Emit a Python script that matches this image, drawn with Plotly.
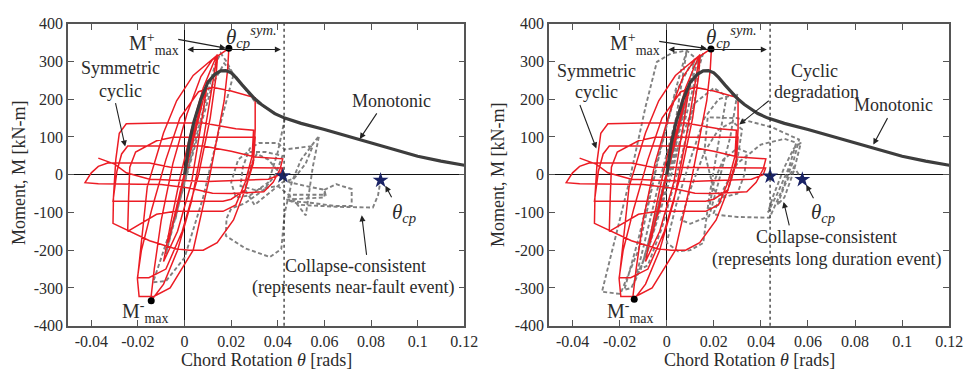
import plotly.graph_objects as go

# ---------------- data ----------------
x_ticks = [-0.04, -0.02, 0, 0.02, 0.04, 0.06, 0.08, 0.1, 0.12]
x_tick_labels = ["-0.04", "-0.02", "0", "0.02", "0.04", "0.06", "0.08", "0.1", "0.12"]
y_ticks = [-400, -300, -200, -100, 0, 100, 200, 300, 400]
y_tick_labels = ["-400", "-300", "-200", "-100", "0", "100", "200", "300", "400"]

# monotonic backbone
mono_x = [0, 0.001, 0.002, 0.004, 0.007, 0.010, 0.013, 0.0155, 0.0177, 0.020, 0.022, 0.0247,
          0.027, 0.030, 0.033, 0.036, 0.0387, 0.043, 0.050, 0.060, 0.070, 0.080, 0.090,
          0.100, 0.110, 0.120]
mono_m = [0, 45, 85, 140, 200, 245, 266, 275, 276, 270, 258, 238,
          222, 202, 186, 172, 162, 150, 136, 120, 102, 84, 66,
          49, 36, 25]

# symmetric cyclic (red) response, same in both panels
red_pts = [
    (0, 0), (0.004, 120), (-0.004, -110), (0.007, 190), (-0.007, -180),
    (0.010, 250), (0.007, 130), (0.003, -20), (-0.003, -150), (-0.009, -230),
    (-0.006, -130), (-0.002, -10), (0.003, 120), (0.008, 230), (0.012, 290),
    (0.014, 318), (0.012, 240), (0.008, 90), (0.003, -70), (-0.003, -200), (-0.009, -290),
    (-0.0146, -336), (-0.013, -250), (-0.010, -120), (-0.005, 30), (0.001, 160),
    (0.007, 260), (0.012, 305), (0.019, 335),
    (0.0185, 280), (0.017, 196), (0.0107, -7), (0.0037, -200), (-0.0062, -300),
    (-0.013, -322), (-0.0195, -323),
    (-0.0202, -277), (-0.018, -150), (-0.016, -32), (-0.009, 111), (-0.0034, 196),
    (0.0037, 263), (0.0142, 318),
    (0.0135, 260), (0.011, 150), (0.006, 0), (-0.001, -150), (-0.008, -250),
    (-0.0153, -273), (-0.0202, -273),
    (-0.0185, -200), (-0.014, -90), (-0.008, 40), (-0.002, 150), (0.006, 220),
    (0.012, 232), (0.020, 222), (0.0303, 204),
    (0.0303, 120), (0.0295, 40), (0.026, -40), (0.021, -120), (0.014, -180),
    (0.008, -200), (0.002, -200), (-0.004, -196), (-0.015, -175), (-0.0307, -129),
    (-0.0305, -60), (-0.0295, 40), (-0.028, 110), (-0.025, 135), (-0.010, 137),
    (0.008, 137), (0.014, 130), (0.022, 122), (0.0296, 118),
    (0.029, 50), (0.026, -20), (0.022, -80), (0.0165, -97), (-0.004, -97),
    (-0.012, -105), (-0.0244, -150),
    (-0.0240, -60), (-0.0235, 20), (-0.021, 60), (-0.012, 90), (-0.005, 99), (0.0303, 99),
    (0.0295, 30), (0.026, -40), (0.020, -65), (0.0165, -70), (-0.0307, -70),
    (-0.029, 10), (-0.027, 55), (-0.0244, 76), (0.008, 76), (0.020, 62), (0.0303, 47),
    (0.0421, 42),
    (0.041, 15), (0.038, -20), (0.034, -45), (0.020, -50), (0.012, -49), (0.002, -35),
    (-0.010, -26), (-0.037, -24), (-0.0427, -21),
    (-0.040, 5), (-0.037, 22), (-0.033, 31), (-0.015, 31), (-0.006, 20), (0.042, 18),
    (0.041, 0), (0.036, -12), (0.010, -18), (-0.015, -12), (-0.025, 5), (-0.030, 28),
    (-0.037, 44),
]
red_x = [p[0] for p in red_pts]
red_m = [p[1] for p in red_pts]

# collapse-consistent, near-fault event (left panel, grey dashed)
nf_pts = [
    (0, 0), (0.005, 150), (-0.004, -120), (0.009, 230), (-0.008, -210), (0.013, 290),
    (0.0155, 322), (0.018, 300), (0.021, 265), (0.016, 150), (0.008, -60), (0.000, -220),
    (-0.008, -282), (-0.0135, -285), (-0.011, -240), (-0.003, -90), (0.006, 110),
    (0.012, 240), (0.017, 295), (0.022, 260), (0.030, 195), (0.043, 148),
    (0.040, 60), (0.036, -20), (0.028, -55), (0.022, -60), (0.020, -20), (0.023, 40),
    (0.027, 60), (0.035, 60), (0.042, 50), (0.039, 0), (0.034, -40), (0.026, -75),
    (0.020, -90), (0.018, -116), (0.0177, -162), (0.026, -195), (0.0366, -218),
    (0.0415, -197), (0.043, -100), (0.046, -20), (0.050, 40), (0.0577, 103),
    (0.055, 20), (0.052, -108), (0.046, -60), (0.040, -30), (0.030, -40), (0.024, -30),
    (0.025, 20), (0.028, 70), (0.032, 84), (0.040, 84), (0.043, 67), (0.055, 76),
    (0.052, 30), (0.047, -10), (0.042, -20), (0.036, -50), (0.030, -80), (0.026, -40),
    (0.028, 20), (0.031, 55), (0.036, 40), (0.040, 10), (0.0422, -3), (0.045, -20),
    (0.052, -30), (0.060, -40), (0.0605, -53), (0.045, -53), (0.046, -70), (0.055, -75),
    (0.0647, -83), (0.0717, -83), (0.0717, -38), (0.065, -25), (0.060, -40),
    (0.060, -60), (0.0437, -66), (0.050, -80), (0.065, -85), (0.0808, -87),
    (0.083, -55), (0.0841, -15),
]
nf_x = [p[0] for p in nf_pts]
nf_m = [p[1] for p in nf_pts]

# collapse-consistent, long-duration event (right panel, grey dashed)
ld_pts = [
    (0, 0), (0.004, 110), (-0.004, -100), (0.007, 180), (-0.007, -170), (0.010, 240),
    (-0.010, -230), (0.013, 300), (0.0155, 322), (0.012, 250), (0.002, 0), (-0.008, -200),
    (-0.014, -290), (-0.011, -220), (-0.004, -40), (0.004, 150), (0.0085, 329),
    (0.004, 230), (-0.004, 30), (-0.012, -200), (-0.0197, -316), (-0.0275, -310),
    (-0.024, -220), (-0.016, -20), (-0.009, 180), (-0.0042, 299), (0.002, 322),
    (0.0085, 329), (0.012, 310), (0.008, 180), (0.000, -20), (-0.008, -200),
    (-0.015, -300), (-0.018, -305), (-0.012, -170), (-0.004, 40), (0.004, 220),
    (0.010, 290), (0.014, 300), (0.012, 200), (0.006, 40), (-0.002, -140),
    (-0.008, -240), (-0.011, -250), (-0.006, -140), (0.004, 60), (0.012, 190),
    (0.020, 230), (0.0254, 207), (0.022, 80), (0.018, -60), (0.0155, -181),
    (0.010, -200), (0.0048, -203), (0.000, -180), (0.004, -80), (0.010, 40),
    (0.016, 150), (0.022, 200), (0.030, 215), (0.027, 100), (0.022, -20),
    (0.018, -110), (0.010, -130), (0.006, -120), (0.010, -40), (0.016, 60),
    (0.022, 120), (0.028, 140), (0.032, 120), (0.030, 40), (0.026, -40), (0.022, -80),
    (0.018, -90), (0.020, -20), (0.024, 40), (0.030, 70), (0.034, 60), (0.033, 0),
    (0.030, -50), (0.024, -60), (0.020, -40), (0.016, 60), (0.0174, 152), (0.030, 150),
    (0.045, 125), (0.0562, 93), (0.054, 40), (0.049, -40), (0.0437, -114),
    (0.030, -112), (0.0197, -105), (0.024, -40), (0.030, 30), (0.040, 80),
    (0.050, 95), (0.055, 85), (0.052, 20), (0.047, -50), (0.043, -100), (0.045, -60),
    (0.050, 20), (0.054, 70), (0.057, 85), (0.054, 10), (0.050, -60), (0.047, -80),
    (0.050, -30), (0.054, 20), (0.0576, -13),
]
ld_x = [p[0] for p in ld_pts]
ld_m = [p[1] for p in ld_pts]

# characteristic points
mpos_left = (0.019, 335)
mneg_left = (-0.0143, -334)
mpos_right = (0.0188, 333)
mneg_right = (-0.0138, -330)
stars_left_x = [0.0422, 0.0841]
stars_left_m = [-3, -15]
stars_right_x = [0.0439, 0.0576]
stars_right_m = [-4, -13]
theta_sym_left = 0.0427
theta_sym_right = 0.0439

# ---------------- figure ----------------
W, H = 978, 381
FONT = "Liberation Serif"
TXT = "#2b2b2b"
RED = "#ec1c24"
GREY = "#808080"
MONO = "#3d3d3d"

fig = go.Figure()

def add_panel(xa, ya, gx, gm, mpos, mneg, sx, sm):
    fig.add_trace(go.Scatter(x=gx, y=gm, mode="lines", xaxis=xa, yaxis=ya,
                             line=dict(color=GREY, width=1.9, dash="4px,2.5px")))
    fig.add_trace(go.Scatter(x=red_x, y=red_m, mode="lines", xaxis=xa, yaxis=ya,
                             line=dict(color=RED, width=1.5)))
    fig.add_trace(go.Scatter(x=mono_x, y=mono_m, mode="lines", xaxis=xa, yaxis=ya,
                             line=dict(color=MONO, width=3.2)))
    fig.add_trace(go.Scatter(x=[mpos[0], mneg[0]], y=[mpos[1], mneg[1]], mode="markers",
                             xaxis=xa, yaxis=ya, marker=dict(color="black", size=7)))
    fig.add_trace(go.Scatter(x=sx, y=sm, mode="markers", xaxis=xa, yaxis=ya,
                             marker=dict(color="#1b2466", size=12, symbol="star")))

add_panel("x", "y", nf_x, nf_m, mpos_left, mneg_left, stars_left_x, stars_left_m)
add_panel("x2", "y2", ld_x, ld_m, mpos_right, mneg_right, stars_right_x, stars_right_m)

ydom = [1 - 332.5 / H, 1 - 16.5 / H]
axis_common = dict(showline=True, linecolor="#555555", linewidth=1.5, mirror="ticks",
                   ticks="inside", ticklen=6, tickcolor="#555555", tickwidth=1.2,
                   showgrid=False, zeroline=True, zerolinecolor="#111111", zerolinewidth=1.3,
                   tickfont=dict(family=FONT, size=16, color=TXT))

fig.update_layout(
    width=W, height=H, margin=dict(l=0, r=0, t=0, b=0),
    paper_bgcolor="white", plot_bgcolor="white", showlegend=False,
    xaxis=dict(domain=[69 / W, 471 / W], range=[-0.05, 0.12], tickvals=x_ticks,
               ticktext=x_tick_labels, anchor="y", **axis_common),
    yaxis=dict(domain=ydom, range=[-400, 400], tickvals=y_ticks, ticktext=y_tick_labels,
               anchor="x", **axis_common),
    xaxis2=dict(domain=[557 / W, 963 / W], range=[-0.05, 0.12], tickvals=x_ticks,
                ticktext=x_tick_labels, anchor="y2", **axis_common),
    yaxis2=dict(domain=ydom, range=[-400, 400], tickvals=y_ticks, ticktext=y_tick_labels,
                anchor="x2", **axis_common),
)

# dotted vertical lines at theta_cp^sym
for xr, xv in (("x", theta_sym_left), ("x2", theta_sym_right)):
    fig.add_shape(type="line", xref=xr, yref="paper", x0=xv, x1=xv, y0=ydom[0], y1=ydom[1],
                  line=dict(color="#222222", width=1.2, dash="dot"))

def px(x):
    return x / W

def py(y):
    return 1 - y / H

def text(x, y, t, size=18, xanchor="center", angle=0):
    fig.add_annotation(xref="paper", yref="paper", x=px(x), y=py(y), text=t, showarrow=False,
                       xanchor=xanchor, yanchor="middle", textangle=angle,
                       font=dict(family=FONT, size=size, color=TXT))

def arrow(tx, ty, hx, hy, both=False):
    fig.add_annotation(xref="paper", yref="paper", x=px(hx), y=py(hy), ax=tx - hx, ay=ty - hy,
                       text="", showarrow=True, arrowhead=2, arrowsize=1.1, arrowwidth=1.1,
                       arrowcolor="#222222", arrowside="end+start" if both else "end",
                       startarrowhead=2, startarrowsize=1.1)

MPLUS = "M<sup>+</sup><sub>max</sub>"
MMINUS = "M<sup>-</sup><sub>max</sub>"
TSYM = "<i>θ</i><sub><i>cp</i></sub><sup><i>sym.</i></sup>"
TCP = "<i>θ</i><sub><i>cp</i></sub>"
XT = "Chord Rotation <i>θ</i> [rads]"
YT = "Moment, M [kN-m]"

# left panel texts
text(122, 63, "Symmetric")
text(122, 87, "cyclic")
arrow(117, 100, 127, 145)
text(397, 97, "Monotonic")
arrow(383, 110, 365, 137)
text(396, 215, TCP, size=21, xanchor="left")
arrow(398, 199, 391, 186)
text(361, 270, "Collapse-consistent")
text(359, 293, "(represents near-fault event)")
arrow(372, 258, 367, 217)
text(184, 38, MPLUS, size=20, xanchor="right")
arrow(180, 33, 229, 42)
text(227, 30, TSYM, size=21, xanchor="left")
arrow(190, 43.5, 285, 43.5, both=True)
text(122, 318, MMINUS, size=20, xanchor="left")
text(270, 368, XT)
text(20, 173, YT, angle=-90)

# right panel texts
text(605, 66, "Symmetric")
text(605, 88, "cyclic")
arrow(588, 102, 605, 147)
text(826, 66, "Cyclic")
text(828, 88, "degradation")
arrow(781, 97, 750, 122)
text(906, 102, "Monotonic")
arrow(901, 115, 886, 143)
text(821, 215, TCP, size=21, xanchor="left")
arrow(826, 200, 818, 185)
text(838, 240, "Collapse-consistent")
text(838, 263, "(represents long duration event)")
arrow(801, 228, 795, 203)
text(672, 38, MPLUS, size=20, xanchor="right")
arrow(668, 35, 717, 42.5)
text(714, 30, TSYM, size=21, xanchor="left")
arrow(678, 43.5, 778, 43.5, both=True)
text(614, 318, MMINUS, size=20, xanchor="left")
text(760, 368, XT)
text(505, 175, YT, angle=-90)

fig.write_html("out.html")
